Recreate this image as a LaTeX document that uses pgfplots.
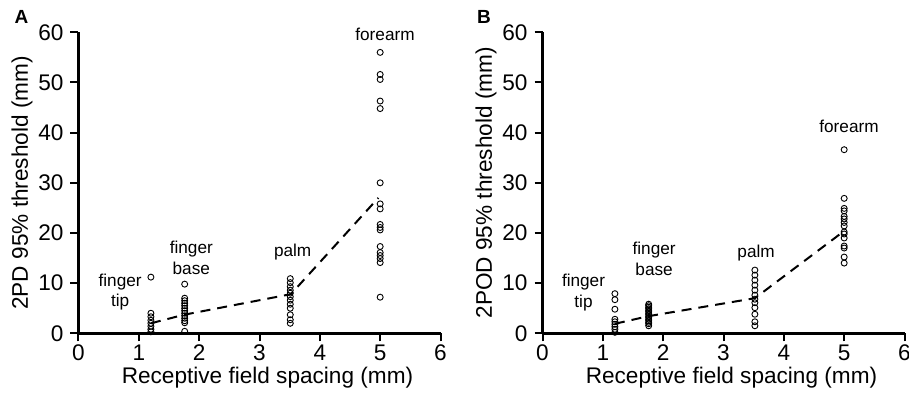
\documentclass[border=0pt]{standalone}
\usepackage{fontspec}
\setmainfont{Liberation Sans}
\usepackage{pgfplots}
\pgfplotsset{compat=1.18}
\tikzset{ann/.style={font=\fontsize{8.6}{10.3}\selectfont, align=center, anchor=center}}
\pgfplotsset{panel/.style={
  width=181pt, height=150.5pt, scale only axis,
  xmin=0, xmax=6, ymin=0, ymax=60,
  axis x line*=bottom, axis y line*=left,
  axis line style={-, line width=1.2pt, black},
  xtick={0,1,...,6}, ytick={0,10,...,60},
  tick align=outside, major tick length=4pt,
  tick style={black, line width=1pt},
  tick label style={font=\fontsize{11.3}{13}\selectfont},
  x tick label style={inner sep=1pt, yshift=-0.5pt},
  label style={font=\fontsize{11.3}{13}\selectfont},
  /pgf/number format/assume math mode=true,
  xlabel={Receptive field spacing (mm)},
  xlabel style={at={(axis description cs:0.522,-0.148)}, anchor=center, inner sep=1pt},
  ylabel style={at={(axis description cs:-0.156,0.5)}, anchor=center},
  clip=false,
  },
  pts/.style={only marks, mark=o, mark size=1.5pt, black, mark options={line width=0.45pt}},
  fit/.style={black, line width=1pt, dash pattern=on 5pt off 3.5pt},
}
\begin{document}
\begin{tikzpicture}
\path[use as bounding box] (0,0) rectangle (454.5pt,199pt);
% Panel A
\begin{axis}[panel, at={(39.25pt,32.35pt)}, anchor=south west,
  ylabel={2PD 95\% threshold (mm)}]
\addplot[fit] coordinates {(1.2,2.0) (1.75,3.7) (3.52,7.8) (4.97,27)};
\addplot[pts] coordinates {
(1.2,11.2) (1.2,4.0) (1.2,3.3) (1.2,2.6) (1.2,2.0) (1.2,1.4) (1.2,0.8) (1.2,0.3)
(1.76,9.8) (1.76,7.0) (1.76,6.5) (1.76,6.0) (1.76,5.5) (1.76,5.0) (1.76,4.5) (1.76,4.0) (1.76,3.5) (1.76,3.0) (1.76,2.5) (1.76,2.1) (1.76,0.4)
(3.51,10.9) (3.51,10.1) (3.51,9.3) (3.51,8.6) (3.51,8.0) (3.51,7.3) (3.51,6.6) (3.51,5.8) (3.51,5.0) (3.51,3.7) (3.51,2.7) (3.51,2.0)
(5,56.0) (5,51.6) (5,50.6) (5,46.3) (5,44.8) (5,30.0) (5,25.8) (5,24.8) (5,21.7) (5,21.1) (5,20.6) (5,17.3) (5,16.1) (5,15.5) (5,14.9) (5,14.1) (5,7.2)
};
\node[ann] at (axis cs:0.69,8.2) {finger\\tip};
\node[ann] at (axis cs:1.87,15.0) {finger\\base};
\node[ann] at (axis cs:3.55,16.1) {palm};
\node[ann] at (axis cs:5.08,59.6) {forearm};
\end{axis}
% Panel B
\begin{axis}[panel, at={(271.25pt,32.35pt)}, anchor=south west,
  ylabel={2POD 95\% threshold (mm)}]
\addplot[fit] coordinates {(1.2,1.9) (1.75,3.4) (3.52,7.0) (5,20.4)};
\addplot[pts] coordinates {
(1.2,7.9) (1.2,6.7) (1.2,4.8) (1.2,2.8) (1.2,2.3) (1.2,1.8) (1.2,1.3) (1.2,0.8) (1.2,0.2)
(1.76,5.8) (1.76,5.5) (1.76,5.2) (1.76,4.9) (1.76,4.6) (1.76,4.3) (1.76,4.0) (1.76,3.7) (1.76,3.4) (1.76,3.1) (1.76,2.8) (1.76,2.5) (1.76,2.2) (1.76,1.9) (1.76,1.5)
(3.52,12.6) (3.52,11.6) (3.52,10.6) (3.52,9.6) (3.52,8.6) (3.52,7.6) (3.52,6.8) (3.52,6.1) (3.52,5.1) (3.52,3.8) (3.52,2.3) (3.52,1.5)
(5,36.6) (5,26.9) (5,24.9) (5,24.4) (5,23.3) (5,22.8) (5,22.1) (5,21.4) (5,20.2) (5,19.8) (5,19.0) (5,17.4) (5,17.0) (5,15.2) (5,14.0)
};
\node[ann] at (axis cs:0.68,8.1) {finger\\tip};
\node[ann] at (axis cs:1.85,14.8) {finger\\base};
\node[ann] at (axis cs:3.54,16.0) {palm};
\node[ann] at (axis cs:5.08,41.2) {forearm};
\end{axis}
\node[font=\fontsize{9.5}{11}\selectfont\bfseries] at (10.75pt,190.75pt) {A};
\node[font=\fontsize{9.5}{11}\selectfont\bfseries] at (242pt,190.75pt) {B};
\end{tikzpicture}
\end{document}
